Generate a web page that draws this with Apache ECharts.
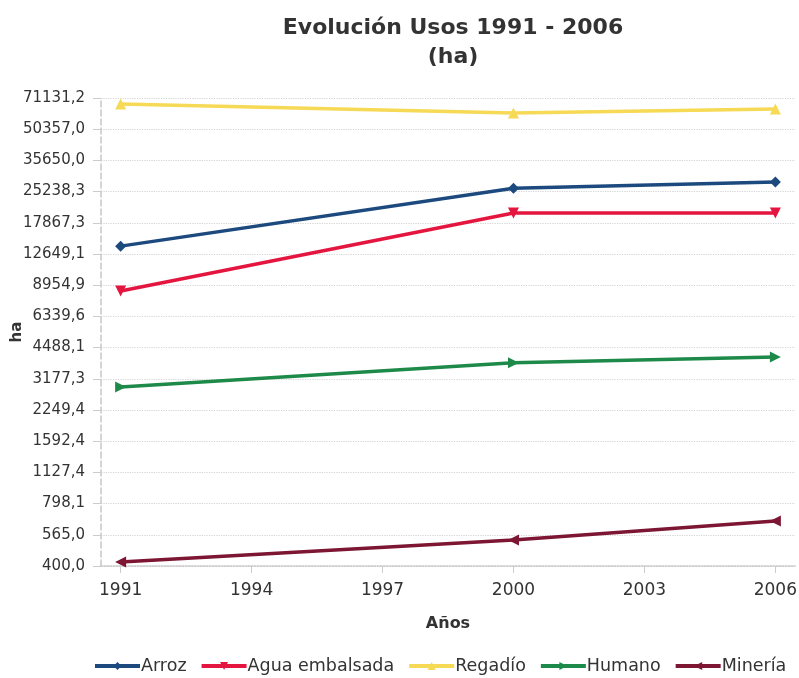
<!DOCTYPE html>
<html>
<head>
<meta charset="utf-8">
<script src="https://cdn.jsdelivr.net/npm/echarts@6/dist/echarts.min.js"></script>
<style>
  html, body { margin: 0; padding: 0; background: #fff; }
  #myChart { width: 799px; height: 678px; }
</style>
</head>
<body>
<div id="myChart"></div>
<script>
// datos (ha)
var years = [1991, 2000, 2006]
var arroz = [13800, 26200, 28100]
var aguaEmbalsada = [8400, 19900, 19900]
var regadio = [66500, 60300, 63000]
var humano = [2900, 3790, 4050]
var mineria = [418, 533, 658]

var xTickLabels = [1991, 1994, 1997, 2000, 2003, 2006]
var yTickLabels = ['400,0', '565,0', '798,1', '1127,4', '1592,4', '2249,4', '3177,3',
  '4488,1', '6339,6', '8954,9', '12649,1', '17867,3', '25238,3', '35650,0', '50357,0', '71131,2']

// eje logarítmico: cada división multiplica por 10^0.15 a partir de 400
var LOG_BASE_VAL = 400
var LOG_STEP = 0.15
function toAxis (v) {
  return Math.log10(v / LOG_BASE_VAL) / LOG_STEP
}
function pairs (vals) {
  return vals.map(function (v, i) { return [years[i], toAxis(v)] })
}

var font = 'DejaVu Sans'
var textColor = '#333'

function serie (name, vals, color, symbol, rotate) {
  return {
    name: name,
    type: 'line',
    data: pairs(vals),
    symbol: symbol,
    symbolSize: 11,
    symbolRotate: rotate,
    lineStyle: { color: color, width: 3.5 },
    itemStyle: { color: color },
    z: 3
  }
}

var myChart = echarts.init(document.getElementById('myChart'))
myChart.setOption({
  animation: false,
  title: {
    text: 'Evolución Usos 1991 - 2006\n(ha)',
    left: 448,
    textAlign: 'center',
    top: 9,
    textStyle: { fontFamily: font, fontSize: 22, fontWeight: 'bold', color: textColor, lineHeight: 29 }
  },
  legend: {
    top: 652,
    left: 88,
    itemWidth: 45,
    itemHeight: 10,
    itemGap: 13,
    lineStyle: { width: 4 },
    textStyle: { fontFamily: font, fontSize: 17.5, color: textColor, padding: [0, 0, 0, -4] },
    data: ['Arroz', 'Agua embalsada', 'Regadío', 'Humano', 'Minería']
  },
  grid: {
    left: 101,
    right: 4,
    top: 98,
    bottom: 112,
    outerBoundsMode: 'none'
  },
  xAxis: {
    type: 'value',
    min: 1990.55,
    max: 2006.45,
    name: 'Años',
    nameLocation: 'middle',
    nameGap: 50,
    nameTextStyle: { fontFamily: font, fontSize: 16, fontWeight: 'bold', color: textColor },
    axisLine: { show: true, lineStyle: { color: '#c8c8c8', type: 'dotted', width: 1.5 } },
    axisTick: { show: true, length: 7, customValues: xTickLabels, lineStyle: { color: '#ccc' } },
    axisLabel: {
      customValues: xTickLabels,
      fontFamily: font,
      fontSize: 17,
      color: textColor,
      margin: 16,
      formatter: function (v) { return String(v) }
    },
    splitLine: { show: false }
  },
  yAxis: {
    type: 'value',
    min: 0,
    max: 15,
    interval: 1,
    name: 'ha',
    nameLocation: 'middle',
    nameGap: 76,
    nameRotate: 90,
    nameMoveOverlap: false,
    nameTextStyle: { fontFamily: font, fontSize: 15, fontWeight: 'bold', color: textColor },
    axisLine: { show: true, lineStyle: { color: '#c8c8c8', type: 'dashed', width: 1.5 } },
    axisTick: { show: true, length: 8, lineStyle: { color: '#ccc' } },
    axisLabel: {
      fontFamily: font,
      fontSize: 15,
      color: textColor,
      margin: 16,
      formatter: function (v) { return yTickLabels[Math.round(v)] }
    },
    splitLine: { show: true, lineStyle: { color: '#d4d4d4', type: 'dotted', width: 1.2 } }
  },
  series: [
    serie('Arroz', arroz, '#1d4a7e', 'diamond', 0),
    serie('Agua embalsada', aguaEmbalsada, '#e4163f', 'triangle', 180),
    serie('Regadío', regadio, '#f6d955', 'triangle', 0),
    serie('Humano', humano, '#1e8a4a', 'triangle', -90),
    serie('Minería', mineria, '#7d1632', 'triangle', 90)
  ]
})
</script>
</body>
</html>
